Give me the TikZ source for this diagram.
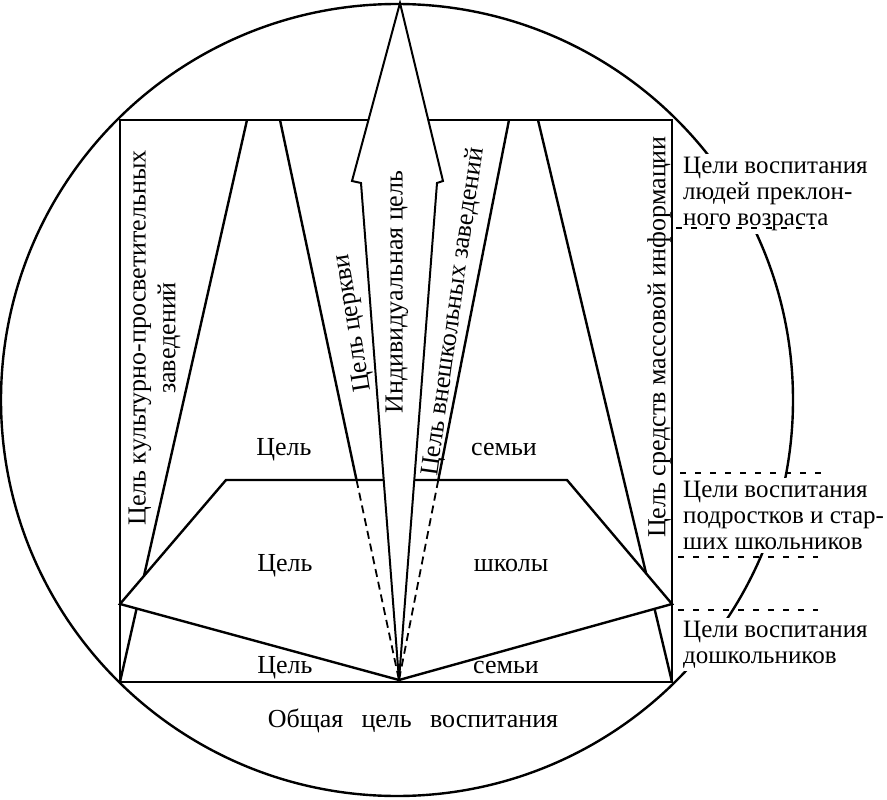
\documentclass[tikz,border=0pt]{standalone}
\usepackage{fontspec}
\setmainfont{Liberation Serif}
\usetikzlibrary{calc}
\begin{document}
\begin{tikzpicture}[x=1pt,y=-1pt,
  ln/.style={line width=2.4pt},
  shaft/.style={line width=2pt, line join=miter},
  dsh/.style={line width=1.8pt, dash pattern=on 8pt off 5pt},
  rdsh/.style={line width=2.2pt, dash pattern=on 6pt off 9pt},
  txt/.style={font=\fontsize{26}{28}\selectfont, inner sep=0pt},
  lab/.style={font=\fontsize{25}{26}\selectfont, align=left, fill=white, inner sep=3pt, anchor=north west},
]
\useasboundingbox (0,0) rectangle (887,800);
% circle
\coordinate (O) at (397,400);
\draw[ln] (O) circle[radius=396pt];
% right labels (hide the circle)
\node[lab] (l1) at (680,154) {Цели воспитания\\людей преклон-\\ного возраста};
\node[lab] (l2) at (680,478) {Цели воспитания\\подростков и стар-\\ших школьников};
\node[lab] (l3) at (680,618) {Цели воспитания\\дошкольников};
% box and lines
\coordinate (TL) at (120,120);
\coordinate (TR) at (672,120);
\coordinate (BL) at (120,682);
\coordinate (BR) at (672,682);
\coordinate (tip) at (399,680);
\coordinate (cpe) at (247,120);
\coordinate (ch) at (280,120);
\coordinate (ex) at (509,120);
\coordinate (me) at (538,120);
\draw[ln] (TL) rectangle (BR);
\draw[ln] (cpe) -- (BL);
\draw[ln] (me) -- (BR);
\draw[ln] (ch) -- (tip);
\draw[ln] (ex) -- (tip);
% school trapezoid
\coordinate (s1) at (226,480);
\coordinate (s2) at (567,480);
\coordinate (s3) at (672,604);
\coordinate (s5) at (120,604);
\draw[ln, fill=white, line join=miter] (s1) -- (s2) -- (s3) -- (tip) -- (s5) -- cycle;
% hidden continuations
\draw[dsh] ($(ch)!0.6429!(tip)$) -- (tip);
\draw[dsh] ($(ex)!0.6429!(tip)$) -- (tip);
% individual arrow
\coordinate (a0) at (400,3);
\coordinate (a1) at (443,181);
\coordinate (a2) at (437,183);
\coordinate (a4) at (361,183);
\coordinate (a5) at (352,181);
\draw[shaft, fill=white] (a0) -- (a1) -- (a2) -- (tip) -- (a4) -- (a5) -- cycle;
% vertical texts
\node[txt, rotate=90] (cpe1) at (140,338) {Цель культурно-просветительных};
\node[txt, rotate=90] (cpe2) at (169,338) {заведений};
\node[txt, rotate=99] (church) at (354,323) {Цель церкви};
\node[txt, rotate=90] (indiv) at (397,292) {Индивидуальная цель};
\node[txt, rotate=82] (extt) at (454,312) {Цель внешкольных заведений};
\node[txt, rotate=90] (media) at (659,337) {Цель средств массовой информации};
% horizontal texts
\node[txt, anchor=base] (f1) at (284,455) {Цель};
\node[txt, anchor=base] (f2) at (504,455) {семьи};
\node[txt, anchor=base] (sc1) at (285,571) {Цель};
\node[txt, anchor=base] (sc2) at (511,571) {школы};
\node[txt, anchor=base] (g1) at (285,673) {Цель};
\node[txt, anchor=base] (g2) at (506,673) {семьи};
\node[txt, anchor=base] (gen) at (413,727) {Общая\hspace{0.7em}цель\hspace{0.7em}воспитания};
% age boundaries
\coordinate (d1a) at (676,228);
\coordinate (d1b) at (815,228);
\coordinate (d2a) at (680,473);
\coordinate (d2b) at (828,473);
\coordinate (d3a) at (678,557);
\coordinate (d3b) at (818,557);
\coordinate (d4a) at (678,610);
\coordinate (d4b) at (818,610);
\draw[rdsh] (d1a) -- (d1b);
\draw[rdsh] (d2a) -- (d2b);
\draw[rdsh] (d3a) -- (d3b);
\draw[rdsh] (d4a) -- (d4b);
\end{tikzpicture}
\end{document}
